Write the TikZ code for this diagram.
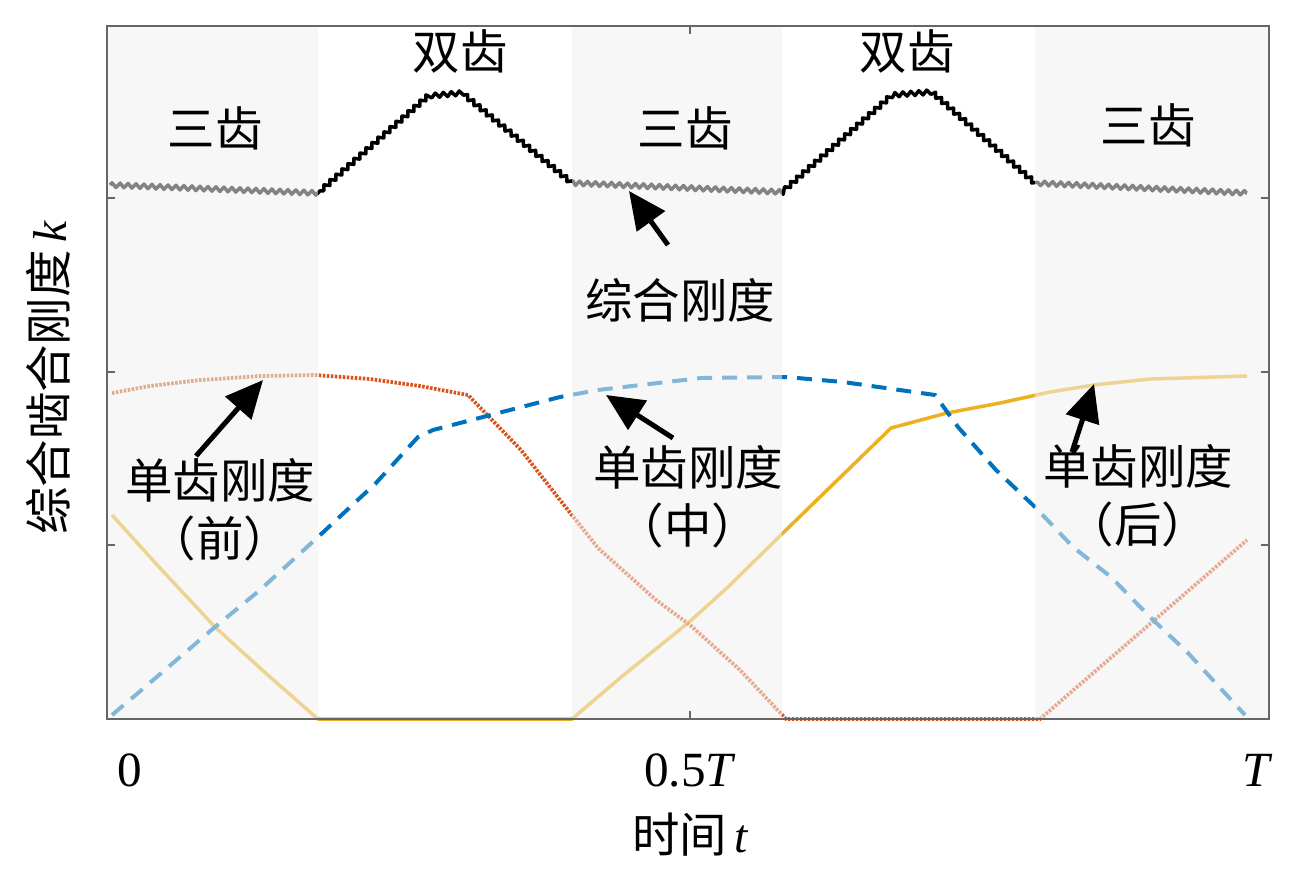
\documentclass[tikz,border=0pt]{standalone}
\usepackage{fontspec}
\setmainfont{Liberation Serif}
\newfontfamily\cjk{Noto Sans CJK SC}
\usepackage{tikz}
\usetikzlibrary{arrows.meta}
\usetikzlibrary{decorations.pathmorphing}
\definecolor{mblue}{RGB}{0,114,189}
\definecolor{mred}{RGB}{217,83,25}
\definecolor{myellow}{RGB}{237,177,32}
\begin{document}
\begin{tikzpicture}[x=0.2mm,y=-0.2mm,
	zh/.style={font=\cjk\fontsize{27}{33}\selectfont, inner sep=0pt, align=center},
	num/.style={font=\fontsize{28}{32}\selectfont, inner sep=0pt},
	pointer/.style={black, line width=1mm, -{Triangle[length=7.5mm,width=6.8mm]}},
	band/.style={fill=black!6, opacity=0.55},
	tickmark/.style={black!60, line width=0.25mm},
	kline/.style={black, line width=0.7mm, line join=round, decorate, decoration={zigzag, segment length=1.6mm, amplitude=0.45mm}},
	redline/.style={mred, line width=0.75mm, dash pattern=on 0.5mm off 0.3mm},
	blueline/.style={mblue, line width=0.8mm, dash pattern=on 3mm off 2mm},
	yellowline/.style={myellow, line width=0.7mm, line join=round}]
		\useasboundingbox (0,0) rectangle (1301,886);
		\draw[yellowline] (112,515) -- (160,568) -- (215,627) -- (270,677) -- (318,719) -- (572,719) -- (620,678) -- (688,623) -- (728,587) -- (786,530) -- (891,428) -- (947,413) -- (1000,403) -- (1050,392) -- (1094,385) -- (1150,379) -- (1247,376);
		\draw[redline] (112,393) -- (150,386) -- (200,380) -- (261,376) -- (315,375) -- (370,379) -- (420,386) -- (468,395) -- (521,450) -- (560,500) -- (598,548) -- (656,600) -- (690,625) -- (740,670) -- (786,719) -- (1040,719) -- (1247,540);
		\draw[blueline] (112,715) -- (138,693) -- (215,627) -- (260,590) -- (318,537) -- (376,483) -- (418,437) -- (433,430) -- (483,417) -- (560,397) -- (598,390) -- (701,378) -- (786,377) -- (843,382) -- (935,395) -- (958,427) -- (996,470) -- (1035,507) -- (1073,547) -- (1111,577) -- (1150,617) -- (1188,653) -- (1245,715);
		\draw[kline] (110,185) -- (318,193) -- (428,96) -- (462,93) -- (572,183) -- (782,192) -- (892,95) -- (932,92) -- (1035,183) -- (1247,193);
		\foreach \xa/\xb in {107/318, 572/782, 1035/1269}
			\fill[band] (\xa,26) rectangle (\xb,719);
		\draw[black!60, line width=0.3mm] (107,26) rectangle (1269,719);
		\foreach \ty in {198,372,545}{
			\draw[tickmark] (107,\ty) -- ++(8,0);
			\draw[tickmark] (1269,\ty) -- ++(-8,0);
		}
		\draw[tickmark] (690,719) -- ++(0,-8);
		\draw[tickmark] (690,26) -- ++(0,8);
		\node[zh] (triA) at (215,128) {三齿};
		\node[zh] (duoA) at (460,52) {双齿};
		\node[zh] (triB) at (685,128) {三齿};
		\node[zh] (duoB) at (907,52) {双齿};
		\node[zh] (triC) at (1148,125) {三齿};
		\node[zh] (total) at (680,300) {综合刚度};
		\node[zh] (qian) at (220,510) {单齿刚度\\（前）};
		\node[zh] (zhong) at (688,497) {单齿刚度\\（中）};
		\node[zh] (hou) at (1138,496) {单齿刚度\\（后）};
		\coordinate (totalTip) at (629,191);
		\coordinate (totalTail) at (668,245);
		\coordinate (qianTip) at (263,380);
		\coordinate (qianTail) at (196,456);
		\coordinate (zhongTip) at (606,395);
		\coordinate (zhongTail) at (673,438);
		\coordinate (houTip) at (1094,384);
		\coordinate (houTail) at (1072,452);
		\draw[pointer] (totalTail) -- (totalTip);
		\draw[pointer] (qianTail) -- (qianTip);
		\draw[pointer] (zhongTail) -- (zhongTip);
		\draw[pointer] (houTail) -- (houTip);
		\node[zh, rotate=90] (ylab) at (48,378) {综合啮合刚度\,{\rmfamily\itshape k}};
		\node[num] (tzero) at (130,770) {0};
		\node[num] (thalf) at (690,770) {0.5\textit{T}};
		\node[num] (tfull) at (1258,770) {\textit{T}};
		\node[zh] (xlab) at (690,835) {时间\,{\rmfamily\itshape t}};
	\end{tikzpicture}
\end{document}
